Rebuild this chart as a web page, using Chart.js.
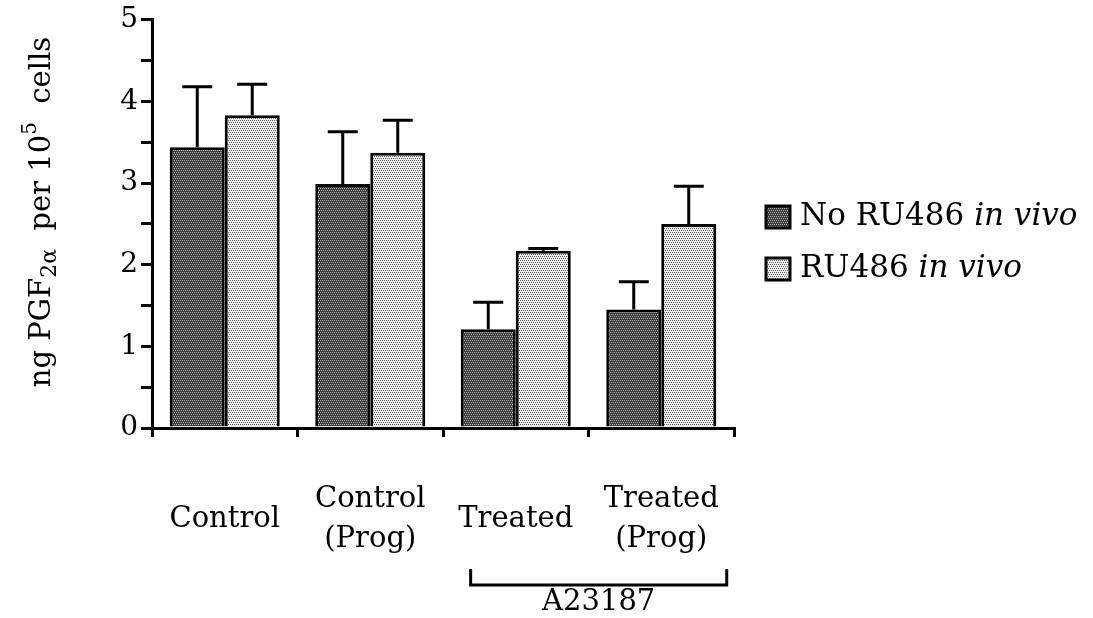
<!DOCTYPE html>
<html>
<head>
<meta charset="utf-8">
<script src="https://cdn.jsdelivr.net/npm/chart.js@4/dist/chart.umd.min.js"></script>
<style>
  html, body { margin: 0; padding: 0; background: #fff; }
  #wrap { width: 1093px; height: 618px; position: relative; }
</style>
</head>
<body>
<div id="wrap"><canvas id="chart"></canvas></div>
<script>
// values
const categories = [["Control"], ["Control", "(Prog)"], ["Treated"], ["Treated", "(Prog)"]];
const noRuMeans = [3.44, 2.99, 1.21, 1.45];
const noRuErr = [0.74, 0.64, 0.33, 0.34];
const ruMeans = [3.83, 3.37, 2.17, 2.50];
const ruErr = [0.38, 0.40, 0.03, 0.46];
const yTicks = [0, 1, 2, 3, 4, 5];
const seriesNames = ["No RU486", "RU486"];
const bracketLabel = "A23187";

const FONT = "'DejaVu Serif', 'Liberation Serif', serif";

// stippled fills like the print
function stipple(base, dot) {
  const c = document.createElement("canvas");
  c.width = 4; c.height = 4;
  const g = c.getContext("2d");
  g.fillStyle = base;
  g.fillRect(0, 0, 4, 4);
  g.fillStyle = dot;
  [[0, 0], [2, 0], [1, 2], [3, 2]].forEach(p => g.fillRect(p[0], p[1], 1, 1));
  return g.createPattern(c, "repeat");
}
const darkFill = stipple("#3c3c3c", "#b4b4b4");
const lightFill = stipple("#eeeeee", "#5a5a5a");

const errorBars = {
  id: "errorBars",
  afterDatasetsDraw(chart) {
    const ctx = chart.ctx;
    const y = chart.scales.y;
    ctx.save();
    ctx.strokeStyle = "#000";
    ctx.lineWidth = 3;
    chart.data.datasets.forEach((ds, i) => {
      chart.getDatasetMeta(i).data.forEach((bar, j) => {
        const top = y.getPixelForValue(ds.data[j] + ds.err[j]);
        ctx.beginPath();
        ctx.moveTo(bar.x, bar.y);
        ctx.lineTo(bar.x, top);
        ctx.moveTo(bar.x - 15, top);
        ctx.lineTo(bar.x + 15, top);
        ctx.stroke();
      });
    });
    ctx.restore();
  }
};

const extras = {
  id: "extras",
  afterDraw(chart) {
    const ctx = chart.ctx;
    const x = chart.scales.x;
    ctx.save();
    ctx.fillStyle = "#000";
    ctx.strokeStyle = "#000";

    // y axis title with sub/superscripts
    const parts = [
      ["ng PGF", 29, 0], ["2\u03b1", 22, 8], ["  per 10", 29, 0], ["5", 20, -11], ["  cells", 29, 0]
    ];
    let total = 0;
    parts.forEach(p => { ctx.font = p[1] + "px " + FONT; total += ctx.measureText(p[0]).width; });
    ctx.translate(42, 212);
    ctx.rotate(-Math.PI / 2);
    ctx.textBaseline = "middle";
    let cx = -total / 2;
    parts.forEach(p => {
      ctx.font = p[1] + "px " + FONT;
      ctx.fillText(p[0], cx, p[2]);
      cx += ctx.measureText(p[0]).width;
    });
    ctx.setTransform(1, 0, 0, 1, 0, 0);

    // bracket under the A23187 groups
    const step = x.getPixelForValue(1) - x.getPixelForValue(0);
    const left = x.getPixelForValue(2) - step * 0.31;
    const right = x.getPixelForValue(3) + step * 0.45;
    ctx.lineWidth = 3;
    ctx.beginPath();
    ctx.moveTo(left, 569);
    ctx.lineTo(left, 585);
    ctx.lineTo(right, 585);
    ctx.lineTo(right, 569);
    ctx.stroke();
    ctx.font = "29px " + FONT;
    ctx.textAlign = "center";
    ctx.textBaseline = "middle";
    ctx.fillText(bracketLabel, (left + right) / 2, 602);

    // legend
    ctx.textAlign = "left";
    chart.data.datasets.forEach((ds, i) => {
      const ty = 217 + i * 52;
      ctx.fillStyle = ds.backgroundColor;
      ctx.fillRect(766, ty - 11, 24, 22);
      ctx.lineWidth = 3;
      ctx.strokeRect(766, ty - 11, 24, 22);
      ctx.fillStyle = "#000";
      ctx.font = "31px " + FONT;
      const name = seriesNames[i] + " ";
      ctx.fillText(name, 800, ty);
      const w = ctx.measureText(name).width;
      ctx.font = "italic 31px " + FONT;
      ctx.fillText("in vivo", 800 + w, ty);
    });
    ctx.restore();
  }
};

new Chart(document.getElementById("chart"), {
  type: "bar",
  data: {
    labels: categories,
    datasets: [
      { label: seriesNames[0], data: noRuMeans, err: noRuErr, backgroundColor: darkFill,
        borderColor: "#000", borderWidth: 3, borderSkipped: "bottom" },
      { label: seriesNames[1], data: ruMeans, err: ruErr, backgroundColor: lightFill,
        borderColor: "#000", borderWidth: 3, borderSkipped: "bottom" }
    ]
  },
  options: {
    responsive: true,
    maintainAspectRatio: false,
    animation: false,
    datasets: { bar: { categoryPercentage: 0.756, barPercentage: 1.0 } },
    layout: { padding: { left: 0, right: 359, top: 18, bottom: 0 } },
    plugins: { legend: { display: false }, tooltip: { enabled: false } },
    scales: {
      x: {
        afterFit(s) { s.height = 190; },
        border: { display: true, color: "#000", width: 3 },
        grid: { display: true, drawOnChartArea: false, drawTicks: true, tickLength: 9, color: "#000", lineWidth: 3, offset: true },
        ticks: { color: "#000", font: { family: FONT, size: 29, lineHeight: 1.38 }, padding: 62, crossAlign: "center", maxRotation: 0, autoSkip: false }
      },
      y: {
        min: 0, max: 5,
        afterFit(s) { s.width = 152; },
        afterBuildTicks(s) {
          const t = [];
          yTicks.forEach((v, i) => { t.push({ value: v }); if (i < yTicks.length - 1) t.push({ value: v + 0.5 }); });
          s.ticks = t;
        },
        border: { display: true, color: "#000", width: 3 },
        grid: { display: true, drawOnChartArea: false, drawTicks: true, tickLength: 11, color: "#000", lineWidth: 3 },
        ticks: {
          color: "#000", font: { family: FONT, size: 28 }, padding: 3, autoSkip: false,
          callback: v => (yTicks.includes(v) ? String(v) : "")
        }
      }
    }
  },
  plugins: [errorBars, extras]
});
</script>
</body>
</html>
